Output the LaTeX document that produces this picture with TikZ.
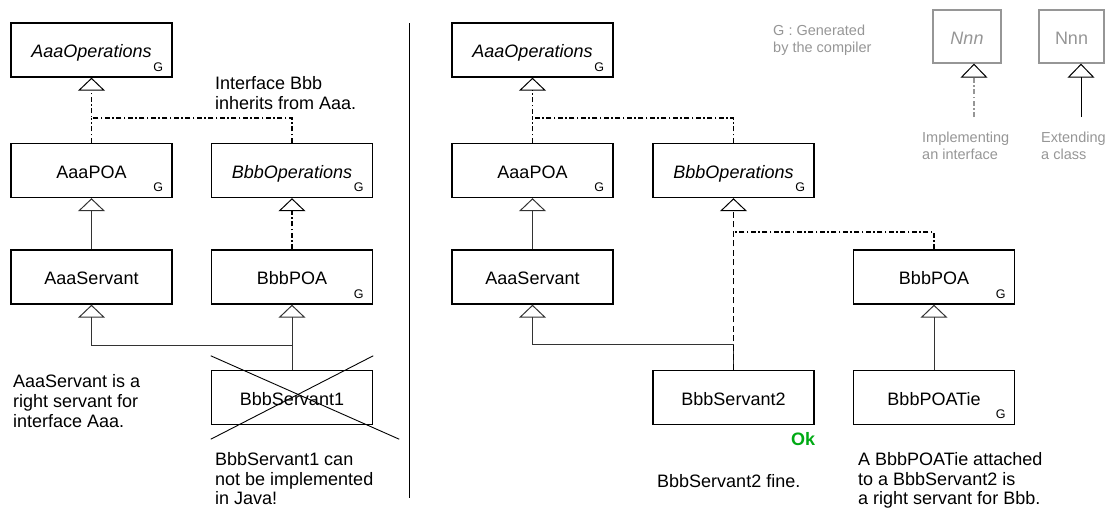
\documentclass[tikz,border=0pt]{standalone}
\usepackage{fontspec}
\setmainfont{Liberation Sans}
\usetikzlibrary{arrows.meta,calc}
\definecolor{okgreen}{RGB}{0,170,20}
\definecolor{lgray}{RGB}{150,150,150}
\newcommand{\fmain}{\fontsize{18}{20}\selectfont}
\newcommand{\fbot}{\fontsize{18}{19.3}\selectfont}
\newcommand{\fsmall}{\fontsize{12.5}{14}\selectfont}
\newcommand{\fleg}{\fontsize{14.5}{17}\selectfont}
\newcommand{\gmark}[2]{\node[gmk] (#1) at ([shift={(-14.5,-11)}]#2.south east) {G};}
\begin{document}
\begin{tikzpicture}[x=1pt,y=-1pt,
 cls/.style={draw, line width=1.4pt, minimum width=161pt, minimum height=54pt, inner sep=0pt, font=\fmain, text height=15pt, text depth=0pt},
 gmk/.style={font=\fsmall, inner sep=0pt, anchor=center},
 tri/.style={-{Triangle[open,length=13pt,width=27pt,line width=1pt]}},
 ext/.style={draw=black!80, line width=1pt},
 impl/.style={line width=1.5pt, dash pattern=on 5pt off 2.5pt on 1.5pt off 2.5pt},
 dsh/.style={line width=1.5pt, dash pattern=on 6pt off 3.5pt},
 lbl/.style={font=\fmain, align=left, anchor=north west, inner sep=0pt},
 lblb/.style={font=\fbot, align=left, anchor=north west, inner sep=0pt},
 leg/.style={font=\fleg, align=left, anchor=north west, inner sep=0pt, text=lgray},
 legbox/.style={draw=lgray, line width=1.3pt, minimum height=53pt, inner sep=0pt, font=\fmain, text=lgray, text height=15pt, text depth=0pt},
]
\useasboundingbox (0,0) rectangle (1109,509);

% ---------- left half ----------
\node[cls, font=\fmain\itshape] (AaaOps1) at (91.5,50) {AaaOperations};
\node[cls] (AaaPOA1) at (91.5,170.5) {AaaPOA};
\node[cls] (AaaServ1) at (91.5,277) {AaaServant};
\node[cls, font=\fmain\itshape] (BbbOps1) at (292,170.5) {BbbOperations};
\node[cls] (BbbPOA1) at (292,277) {BbbPOA};
\node[cls] (BbbS1) at (292,397.5) {BbbServant1};
\gmark{g1}{AaaOps1}
\gmark{g2}{AaaPOA1}
\gmark{g3}{BbbOps1}
\gmark{g4}{BbbPOA1}

\coordinate (j1) at (91.5,118);
\coordinate (j2) at (292,345);
\draw[impl,tri] (BbbOps1.north) |- (j1) -- (AaaOps1.south);
\draw[impl] (AaaPOA1.north) -- (j1);
\draw[ext,tri] (AaaServ1.north) -- (AaaPOA1.south);
\draw[impl,tri] (BbbPOA1.north) -- (BbbOps1.south);
\draw[ext,tri] (j2) -| (AaaServ1.south);
\draw[ext,tri] (BbbS1.north) -- (BbbPOA1.south);
\draw[line width=0.9pt] ([shift={(0,-14)}]BbbS1.north west) -- ([shift={(26,14)}]BbbS1.south east);
\draw[line width=0.9pt] ([shift={(0,14)}]BbbS1.south west) -- ([shift={(0,-14)}]BbbS1.north east);

\node[lbl] (t1) at (215,76.3) {Interface Bbb\\inherits from Aaa.};
\node[lbl] (t2) at (13,374.3) {AaaServant is a\\right servant for\\interface Aaa.};
\node[lblb] (t3) at (215,452.5) {BbbServant1 can\\not be implemented\\in Java!};

% separator
\coordinate (s1) at (409,23);
\coordinate (s2) at (409,498);
\draw[line width=1pt] (s1) -- (s2);

% ---------- right half ----------
\node[cls, font=\fmain\itshape] (AaaOps2) at (532.5,50) {AaaOperations};
\node[cls] (AaaPOA2) at (532.5,170.5) {AaaPOA};
\node[cls] (AaaServ2) at (532.5,277) {AaaServant};
\node[cls, font=\fmain\itshape] (BbbOps2) at (733.5,170.5) {BbbOperations};
\node[cls] (BbbS2) at (733.5,397.5) {BbbServant2};
\node[cls] (BbbPOA2) at (934,277) {BbbPOA};
\node[cls] (BbbTie) at (934,397.5) {BbbPOATie};
\gmark{g5}{AaaOps2}
\gmark{g6}{AaaPOA2}
\gmark{g7}{BbbOps2}
\gmark{g8}{BbbPOA2}
\gmark{g9}{BbbTie}

\coordinate (j3) at (532.5,118);
\coordinate (j4) at (733.5,232);
\coordinate (j5) at (733.5,344);
\draw[impl,tri] (BbbOps2.north) |- (j3) -- (AaaOps2.south);
\draw[impl] (AaaPOA2.north) -- (j3);
\draw[ext,tri] (AaaServ2.north) -- (AaaPOA2.south);
\draw[ext,tri] (BbbS2.north) -- (j5) -| (AaaServ2.south);
\draw[dsh,tri] (BbbS2.north) -- (BbbOps2.south);
\draw[impl] (BbbPOA2.north) |- (j4);
\draw[ext,tri] (BbbTie.north) -- (BbbPOA2.south);

\node[font=\fmain\bfseries, text=okgreen, anchor=base west, inner sep=0pt] (ok) at (791,445) {Ok};
\node[lbl] (t4) at (657,474.3) {BbbServant2 fine.};
\node[lblb] (t5) at (858,452.5) {A BbbPOATie attached\\to a BbbServant2 is\\a right servant for Bbb.};

% ---------- legend ----------
\node[leg] (gleg) at (773,24.6) {G : Generated\\by the compiler};
\node[legbox, minimum width=68pt, font=\fmain\itshape] (L1) at (967,36.5) {Nnn};
\node[legbox, minimum width=65pt] (L2) at (1071.5,36.5) {Nnn};
\coordinate (le1) at (974,117);
\coordinate (le2) at (1081,117);
\draw[impl, draw=lgray, line width=1.2pt, -{Triangle[open,length=14pt,width=27pt,line width=1pt,color=black]}] (le1) -- (le1 |- L1.south);
\draw[line width=1pt, -{Triangle[open,length=14pt,width=27pt,line width=1pt]}] (le2) -- (le2 |- L2.south);
\node[leg] (imp) at (922,131.6) {Implementing\\an interface};
\node[leg] (exl) at (1041,131.6) {Extending\\a class};
\end{tikzpicture}
\end{document}
